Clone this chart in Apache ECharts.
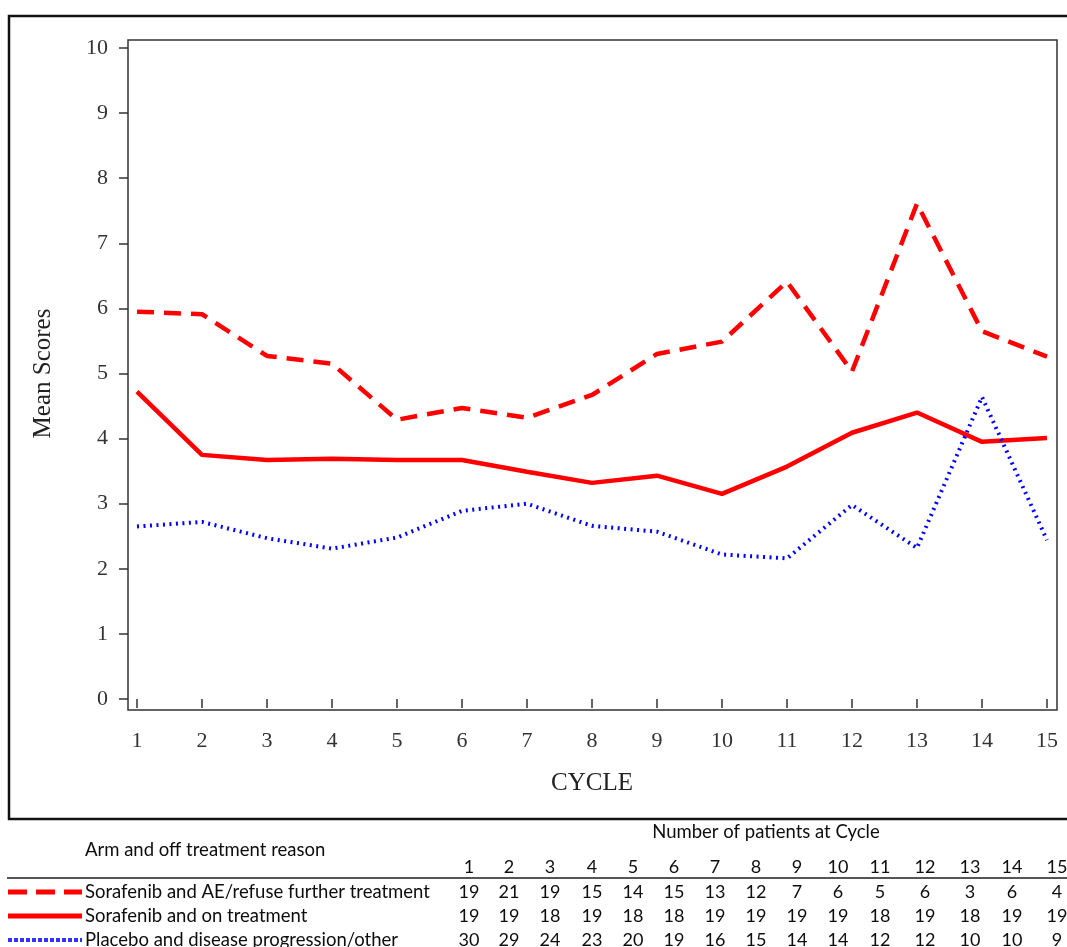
<!DOCTYPE html>
<html>
<head>
<meta charset="utf-8">
<title>Mean Scores by Cycle</title>
<script src="https://cdn.jsdelivr.net/npm/echarts@6/dist/echarts.min.js"></script>
<style>
  html, body { margin: 0; padding: 0; background: #ffffff; }
  #chart { width: 1067px; height: 947px; }
</style>
</head>
<body>
<div id="chart"></div>
<script>
// Cycles on the x axis
const cycles = [1, 2, 3, 4, 5, 6, 7, 8, 9, 10, 11, 12, 13, 14, 15];

// Mean scores per arm / off-treatment reason
const sorafenibAE = [5.95, 5.91, 5.27, 5.15, 4.29, 4.47, 4.32, 4.67, 5.30, 5.49, 6.41, 5.03, 7.61, 5.65, 5.26];
const sorafenibOn = [4.72, 3.75, 3.67, 3.69, 3.67, 3.67, 3.49, 3.32, 3.43, 3.15, 3.57, 4.09, 4.40, 3.95, 4.01];
const placeboPD   = [2.65, 2.72, 2.47, 2.31, 2.48, 2.89, 3.00, 2.66, 2.57, 2.22, 2.16, 2.98, 2.32, 4.64, 2.44];

// Number of patients at each cycle
const nSorafenibAE = [19, 21, 19, 15, 14, 15, 13, 12, 7, 6, 5, 6, 3, 6, 4];
const nSorafenibOn = [19, 19, 18, 19, 18, 18, 19, 19, 19, 19, 18, 19, 18, 19, 19];
const nPlaceboPD   = [30, 29, 24, 23, 20, 19, 16, 15, 14, 14, 12, 12, 10, 10, 9];

// Row labels of the patient-count table
const rowLabels = [
  'Sorafenib and AE/refuse further treatment',
  'Sorafenib and on treatment',
  'Placebo and disease progression/other'
];
const tableTitle = 'Number of patients at Cycle';
const tableRowHeader = 'Arm and off treatment reason';

// ---- layout of the table under the plot ----
const colX = [469, 509, 550, 592, 633, 674, 715, 756, 797, 838, 880, 925, 970, 1012, 1057];
const rowY = [892, 916, 940];
const serif = '"Liberation Serif", "DejaVu Serif", serif';
const sans = 'Lato, "Open Sans", sans-serif';
const textFont = '18.5px ' + sans;
const numFont = '18px ' + sans;
const INK = '#0d0d0d';
const RED = '#ff0000';
const BLUE = '#0000ff';

const pairs = (ys) => cycles.map((c, i) => [c, ys[i]]);

const graphics = [];

// outer box round the plot
graphics.push({
  type: 'rect', silent: true, z: 0,
  shape: { x: 9, y: 16, width: 1080, height: 803 },
  style: { fill: 'none', stroke: '#111', lineWidth: 2.5 }
});

// table header
graphics.push({
  type: 'text', silent: true,
  style: { x: 766, y: 832, text: tableTitle, font: textFont, fill: INK, align: 'center', verticalAlign: 'middle' }
});
graphics.push({
  type: 'text', silent: true,
  style: { x: 85, y: 850, text: tableRowHeader, font: textFont, fill: INK, align: 'left', verticalAlign: 'middle' }
});
cycles.forEach((c, i) => {
  graphics.push({
    type: 'text', silent: true,
    style: { x: colX[i], y: 867, text: String(c), font: numFont, fill: INK, align: 'center', verticalAlign: 'middle' }
  });
});
graphics.push({
  type: 'line', silent: true,
  shape: { x1: 7, y1: 878, x2: 1067, y2: 878 },
  style: { stroke: '#555', lineWidth: 2 }
});

// legend samples
graphics.push({
  type: 'line', silent: true,
  shape: { x1: 8, y1: rowY[0], x2: 82, y2: rowY[0] },
  style: { stroke: RED, lineWidth: 5, lineDash: [19, 9] }
});
graphics.push({
  type: 'line', silent: true,
  shape: { x1: 8, y1: rowY[1], x2: 82, y2: rowY[1] },
  style: { stroke: RED, lineWidth: 5 }
});
graphics.push({
  type: 'line', silent: true,
  shape: { x1: 8, y1: rowY[2], x2: 82, y2: rowY[2] },
  style: { stroke: '#3333ff', lineWidth: 4, lineDash: [4, 2] }
});

// row labels and counts
[nSorafenibAE, nSorafenibOn, nPlaceboPD].forEach((row, r) => {
  graphics.push({
    type: 'text', silent: true,
    style: { x: 85, y: rowY[r], text: rowLabels[r], font: textFont, fill: INK, align: 'left', verticalAlign: 'middle' }
  });
  row.forEach((n, i) => {
    graphics.push({
      type: 'text', silent: true,
      style: { x: colX[i], y: rowY[r], text: String(n), font: numFont, fill: INK, align: 'center', verticalAlign: 'middle' }
    });
  });
});

const chart = echarts.init(document.getElementById('chart'), null, { renderer: 'canvas' });

const tickStyle = { show: true, inside: false, length: 9, lineStyle: { color: '#333', width: 1.5 } };

chart.setOption({
  backgroundColor: '#ffffff',
  animation: false,
  grid: [
    // data area: cycle 1..15 and score 0..10
    { left: 137, right: 20, top: 48, bottom: 248, outerBoundsMode: 'none', containLabel: false },
    // plot frame
    { left: 128, right: 10, top: 40, bottom: 237, show: true, borderColor: '#333', borderWidth: 1.5,
      backgroundColor: 'transparent', outerBoundsMode: 'none', containLabel: false }
  ],
  xAxis: [
    {
      type: 'value', gridIndex: 0, min: 1, max: 15, interval: 1, offset: 11,
      axisLine: { show: false },
      axisTick: tickStyle,
      splitLine: { show: false },
      axisLabel: { color: '#333', fontFamily: serif, fontSize: 22, margin: 20 },
      name: 'CYCLE', nameLocation: 'middle', nameGap: 61,
      nameTextStyle: { color: '#222', fontFamily: serif, fontSize: 25 }
    },
    { type: 'value', gridIndex: 1, show: false, min: 0, max: 1 }
  ],
  yAxis: [
    {
      type: 'value', gridIndex: 0, min: 0, max: 10, interval: 1, offset: 9,
      axisLine: { show: false },
      axisTick: tickStyle,
      splitLine: { show: false },
      axisLabel: { color: '#333', fontFamily: serif, fontSize: 22, margin: 20 },
      name: 'Mean Scores', nameLocation: 'middle', nameGap: 72, nameRotate: 90,
      nameTextStyle: { color: '#222', fontFamily: serif, fontSize: 25 }
    },
    { type: 'value', gridIndex: 1, show: false, min: 0, max: 1 }
  ],
  series: [
    {
      name: rowLabels[0], type: 'line', xAxisIndex: 0, yAxisIndex: 0,
      data: pairs(sorafenibAE), showSymbol: false, symbol: 'none',
      lineStyle: { color: RED, width: 4.5, type: [17, 10] }
    },
    {
      name: rowLabels[1], type: 'line', xAxisIndex: 0, yAxisIndex: 0,
      data: pairs(sorafenibOn), showSymbol: false, symbol: 'none',
      lineStyle: { color: RED, width: 4.5 }
    },
    {
      name: rowLabels[2], type: 'line', xAxisIndex: 0, yAxisIndex: 0,
      data: pairs(placeboPD), showSymbol: false, symbol: 'none',
      lineStyle: { color: BLUE, width: 4, type: [2, 4.5] }
    }
  ],
  graphic: graphics
});
</script>
</body>
</html>
